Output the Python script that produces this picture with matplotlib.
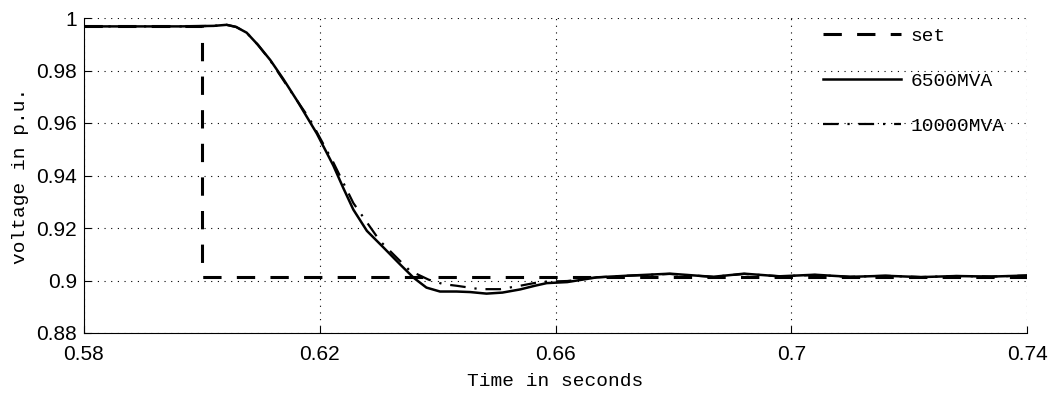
import numpy as np
from matplotlib import pyplot as plt

# set point
t_set = [0.58, 0.60, 0.60, 0.74]
v_set = [0.997, 0.997, 0.9015, 0.9015]

# 6500MVA response
t_6500 = [0.58, 0.59, 0.5963, 0.602, 0.6042, 0.6058, 0.6076, 0.6095, 0.6116, 0.6138, 0.6163,
          0.6195, 0.6223, 0.6240, 0.6257, 0.6280, 0.6308, 0.6336, 0.6359, 0.6381, 0.6404, 0.6432,
          0.6455, 0.6483, 0.651, 0.654, 0.6565, 0.6585, 0.662, 0.667, 0.672, 0.6794, 0.6867, 0.692,
          0.698, 0.704, 0.71, 0.716, 0.722, 0.728, 0.734, 0.74]
v_6500 = [0.9968, 0.9968, 0.9968, 0.997, 0.9974, 0.9966, 0.9944, 0.9898, 0.9840, 0.9768, 0.9680,
          0.9560, 0.9438, 0.9352, 0.9270, 0.9189, 0.9126, 0.9062, 0.9011, 0.8973, 0.8958, 0.8958,
          0.8956, 0.8950, 0.8954, 0.8966, 0.8980, 0.8990, 0.8994, 0.9012, 0.9018, 0.9026, 0.9014,
          0.9026, 0.9016, 0.9022, 0.9014, 0.9018, 0.9013, 0.9017, 0.9015, 0.9019]

# 10000MVA response
t_10000 = [0.58, 0.59, 0.5963, 0.602, 0.6042, 0.6058, 0.6076, 0.6095, 0.6116, 0.6138, 0.6160,
           0.6183, 0.6223, 0.6257, 0.6302, 0.6353, 0.6385, 0.641, 0.6432, 0.6472, 0.6506, 0.654,
           0.6575, 0.662, 0.667, 0.672, 0.6794, 0.6867, 0.692, 0.698, 0.704, 0.71, 0.716, 0.722,
           0.728, 0.734, 0.74]
v_10000 = [0.9968, 0.9968, 0.9968, 0.997, 0.9974, 0.9966, 0.9944, 0.9898, 0.9838, 0.9764, 0.9690,
           0.9615, 0.9450, 0.9295, 0.9151, 0.9037, 0.9003, 0.8986, 0.8980, 0.8967, 0.8967, 0.8980,
           0.8995, 0.8998, 0.9012, 0.9018, 0.9025, 0.9014, 0.9025, 0.9016, 0.9021, 0.9014, 0.9018,
           0.9013, 0.9017, 0.9015, 0.9019]

xticks = [0.58, 0.62, 0.66, 0.7, 0.74]
xticklabels = ['0.58', '0.62', '0.66', '0.7', '0.74']
yticks = [0.88, 0.9, 0.92, 0.94, 0.96, 0.98, 1.0]
yticklabels = ['0.88', '0.9', '0.92', '0.94', '0.96', '0.98', '1']

mono = ['Liberation Mono', 'DejaVu Sans Mono']
sans = ['Liberation Sans', 'DejaVu Sans']

fig = plt.figure(figsize=(10.51, 4.07), dpi=100)
ax = fig.add_axes([84/1051, 1-333/407, (1027-84)/1051, (333-18)/407])

ax.plot(t_set, v_set, 'k--', lw=2.2, dashes=(6, 5), label='set')
ax.plot(t_6500, v_6500, 'k-', lw=1.8, label='6500MVA')
ax.plot(t_10000, v_10000, 'k-.', lw=1.6, dashes=(7, 4, 1, 4), label='10000MVA')

ax.set_xlim(0.58, 0.74)
ax.set_ylim(0.88, 1.0)
ax.set_xticks(xticks)
ax.set_xticklabels(xticklabels, family=sans, fontsize=15)
ax.set_yticks(yticks)
ax.set_yticklabels(yticklabels, family=sans, fontsize=15)
ax.tick_params(direction='in', length=5, width=0.8)
ax.tick_params(axis='x', pad=9)
ax.tick_params(axis='y', pad=5)
ax.spines['top'].set_visible(False)
ax.spines['right'].set_visible(False)
ax.grid(True, linestyle=(0, (1, 5)), color='k', lw=0.8)

ax.set_xlabel('Time in seconds', family=mono, fontsize=14, labelpad=6)
ax.set_ylabel('voltage in p.u.', family=mono, fontsize=14, labelpad=5)

leg = ax.legend(loc='upper right', frameon=False, prop={'family': mono, 'size': 14},
                handlelength=4.0, handletextpad=0.5, labelspacing=1.4,
                bbox_to_anchor=(0.995, 1.025))

fig.savefig('out.png', dpi=100)
